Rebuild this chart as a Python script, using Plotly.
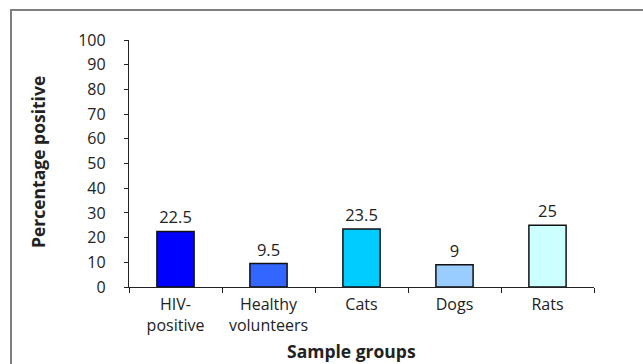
import plotly.graph_objects as go

# Sample groups and percentage positive
groups = ["HIV-<br>positive", "Healthy<br>volunteers", "Cats", "Dogs", "Rats"]
percent_positive = [22.5, 9.5, 23.5, 9, 25]
bar_colors = ["#0000FF", "#3366FF", "#00CCFF", "#99CCFF", "#CCFFFF"]
y_ticks = list(range(0, 101, 10))

W, H = 643, 364
ml, mr, mt, mb = 129, 49, 40, 77
pw, ph = W - ml - mr, H - mt - mb

FONT = "Open Sans"
INK = "#222222"


def px_to_paper(px, py):
    """Convert page pixel coordinates to paper coordinates."""
    return (px - ml) / pw, (H - mb - py) / ph


fig = go.Figure(
    go.Bar(
        x=groups,
        y=percent_positive,
        marker=dict(color=bar_colors, line=dict(color="#111111", width=1.5)),
        text=[f"{v:g}" for v in percent_positive],
        textposition="outside",
        textfont=dict(family=FONT, size=16.5, color=INK),
        cliponaxis=False,
        width=0.4,
    )
)

# outer frame around the chart (left and top edges visible)
fx0, fy1 = px_to_paper(11, 10)
fig.add_shape(
    type="rect", xref="paper", yref="paper",
    x0=fx0, x1=2.0, y0=-1.0, y1=fy1,
    line=dict(color="#808080", width=2),
    layer="below",
)

# axis titles
tx, ty = px_to_paper(351, 351)
fig.add_annotation(
    text="<b>Sample groups</b>", xref="paper", yref="paper", x=tx, y=ty,
    showarrow=False, xanchor="center", yanchor="middle",
    font=dict(family=FONT, size=17.5, color=INK),
)
vx, vy = px_to_paper(38, 162)
fig.add_annotation(
    text="<b>Percentage positive</b>", xref="paper", yref="paper", x=vx, y=vy,
    showarrow=False, xanchor="center", yanchor="middle", textangle=-90,
    font=dict(family=FONT, size=17.5, color=INK),
)

fig.update_layout(
    width=W, height=H,
    margin=dict(l=ml, r=mr, t=mt, b=mb),
    paper_bgcolor="white", plot_bgcolor="white",
    showlegend=False,
    font=dict(family=FONT, size=16, color=INK),
    xaxis=dict(
        showline=True, linecolor=INK, linewidth=1.3,
        ticks="outside", ticklen=5, tickcolor=INK, tickwidth=1,
        tickson="boundaries",
        ticklabelstandoff=3,
        tickfont=dict(family=FONT, size=16, color=INK),
        showgrid=False,
    ),
    yaxis=dict(
        range=[0, 100], tickvals=y_ticks,
        showline=True, linecolor=INK, linewidth=1.3,
        ticks="outside", ticklen=4, tickcolor=INK, tickwidth=1,
        ticklabelstandoff=15,
        tickfont=dict(family=FONT, size=16, color=INK),
        showgrid=False, zeroline=False,
    ),
)

fig.write_html("out.html")
